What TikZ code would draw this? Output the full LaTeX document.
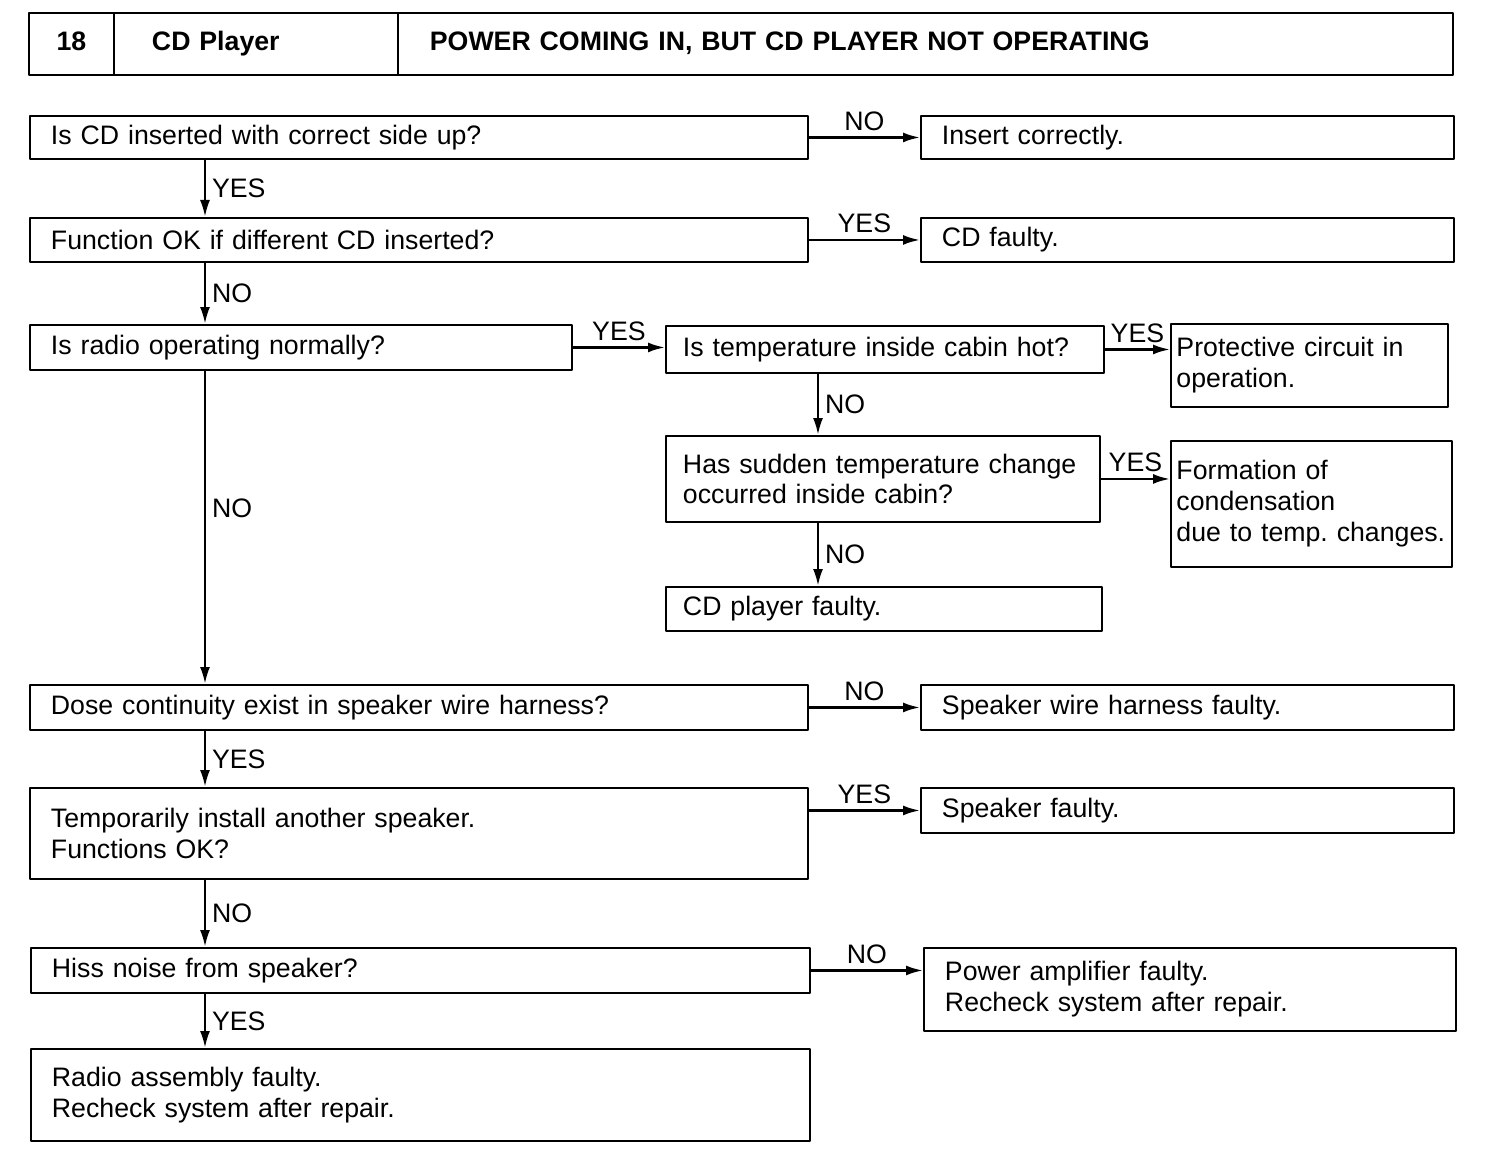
\documentclass[tikz,border=0pt]{standalone}
\usepackage{fontspec}
\setmainfont{Liberation Sans}
\usepackage{tikz}
\usetikzlibrary{arrows.meta, positioning, calc}
\frenchspacing
\tikzset{every node/.style={font=\fontsize{15.2}{17.6}\selectfont}, every path/.style={line cap=round, line join=round}, >={Latex[length=3.4mm, width=2mm]}}

\begin{document}
\begin{tikzpicture}[
    x=0.02cm, y=-0.02cm,
    qbox/.style={draw, line width=1.1pt, anchor=north west, align=left, inner xsep=0.42cm, inner ysep=2pt},
    mbox/.style={qbox, inner xsep=0.34cm},
    nbox/.style={qbox, inner xsep=0.11cm},
    flow/.style={->, line width=1.4pt},
    hcell/.style={draw, line width=1.1pt, minimum height=1.24cm, inner ysep=0pt, outer sep=0pt, text height=11pt, text depth=3.5pt, font=\fontsize{15.2}{17.6}\selectfont\bfseries}
]
    \useasboundingbox (0,0) rectangle (1504,1158);

    \node [hcell, anchor=north west, text width=1.7cm, inner xsep=0pt, align=center] (hnum) at (29,13) {18};
    \node [hcell, right=0pt of hnum, text width=4.16cm, inner xsep=0.76cm, align=left] (hdev) {CD Player};
    \node [hcell, right=0pt of hdev, text width=19.82cm, inner xsep=0.64cm, align=left] (htitle) {POWER COMING IN, BUT CD PLAYER NOT OPERATING};

    \coordinate (spine) at (205,0);
    \coordinate (spine2) at (818,0);

    \node [qbox, text width=14.72cm, minimum height=0.86cm] (qside) at (29,115) {Is CD inserted with correct side up?};
    \node [qbox, text width=9.82cm, minimum height=0.86cm] (ainsert) at (920,115) {Insert correctly.};
    \node [qbox, text width=14.72cm, minimum height=0.88cm] (qdisc) at (29,217) {Function OK if different CD inserted?};
    \node [qbox, text width=9.82cm, minimum height=0.88cm] (adisc) at (920,217) {CD faulty.};
    \node [qbox, text width=10cm, minimum height=0.9cm] (qradio) at (29,324) {Is radio operating normally?};
    \node [mbox, text width=8.08cm, minimum height=0.94cm] (qhot) at (665,325) {Is temperature inside cabin hot?};
    \node [nbox, text width=5.32cm, minimum height=1.66cm] (aprot) at (1170,323) {Protective circuit in\\operation.};
    \node [mbox, text width=8cm, minimum height=1.72cm] (qchange) at (665,435) {Has sudden temperature change\\occurred inside cabin?};
    \node [nbox, text width=5.4cm, minimum height=2.52cm] (acond) at (1170,440) {Formation of\\condensation\\due to temp. changes.};
    \node [mbox, text width=8.04cm, minimum height=0.88cm] (aplayer) at (665,586) {CD player faulty.};
    \node [qbox, text width=14.72cm, minimum height=0.9cm] (qwire) at (29,684) {Dose continuity exist in speaker wire harness?};
    \node [qbox, text width=9.82cm, minimum height=0.9cm] (awire) at (920,684) {Speaker wire harness faulty.};
    \node [qbox, text width=14.72cm, minimum height=1.82cm] (qspk) at (29,787) {Temporarily install another speaker.\\Functions OK?};
    \node [qbox, text width=9.82cm, minimum height=0.9cm] (aspk) at (920,787) {Speaker faulty.};
    \node [qbox, text width=14.74cm, minimum height=0.9cm] (qhiss) at (30,947) {Hiss noise from speaker?};
    \node [qbox, text width=9.8cm, minimum height=1.66cm] (aamp) at (923,947) {Power amplifier faulty.\\Recheck system after repair.};
    \node [qbox, text width=14.74cm, minimum height=1.84cm] (aradio) at (30,1048) {Radio assembly faulty.\\Recheck system after repair.};

    \draw [flow] (qside.east) -- node [above] {NO} (qside.east -| ainsert.west);
    \draw [flow] (qdisc.east) -- node [above] {YES} (qdisc.east -| adisc.west);
    \draw [flow] (qradio.east) -- node [above] {YES} (qradio.east -| qhot.west);
    \draw [flow] (qhot.east) -- node [above] {YES} (qhot.east -| aprot.west);
    \draw [flow] (qchange.east) -- node [above] {YES} (qchange.east -| acond.west);
    \draw [flow] (qwire.east) -- node [above] {NO} (qwire.east -| awire.west);
    \draw [flow] (qspk.east |- aspk.west) -- node [above] {YES} (aspk.west);
    \draw [flow] (qhiss.east) -- node [above] {NO} (qhiss.east -| aamp.west);

    \draw [flow] (qside.south -| spine) -- node [right] {YES} (qdisc.north -| spine);
    \draw [flow] (qdisc.south -| spine) -- node [right] {NO} (qradio.north -| spine);
    \draw [flow] (qradio.south -| spine) -- node [right, pos=0.44] {NO} (qwire.north -| spine);
    \draw [flow] (qwire.south -| spine) -- node [right] {YES} (qspk.north -| spine);
    \draw [flow] (qspk.south -| spine) -- node [right] {NO} (qhiss.north -| spine);
    \draw [flow] (qhiss.south -| spine) -- node [right] {YES} (aradio.north -| spine);
    \draw [flow] (qhot.south -| spine2) -- node [right] {NO} (qchange.north -| spine2);
    \draw [flow] (qchange.south -| spine2) -- node [right] {NO} (aplayer.north -| spine2);
\end{tikzpicture}
\end{document}
